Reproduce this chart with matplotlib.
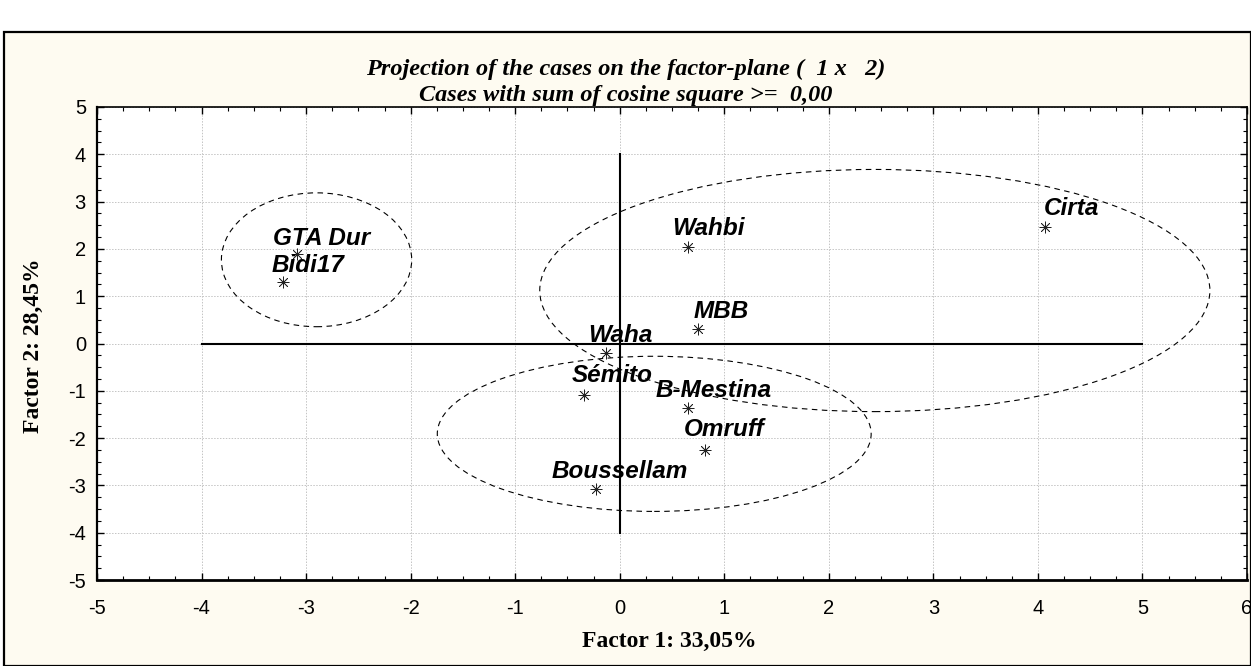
import matplotlib
matplotlib.use("Agg")
import matplotlib.pyplot as plt
from matplotlib.patches import Ellipse, Rectangle
from matplotlib.ticker import MultipleLocator, AutoMinorLocator

serif = "Liberation Serif"
sans = "Liberation Sans"

plt.rcParams["axes.unicode_minus"] = False
plt.rcParams["font.family"] = [sans, "DejaVu Sans"]

# ----------------------------------------------------------------------
# Data
# ----------------------------------------------------------------------
names = ["Cirta", "Wahbi", "GTA Dur", "Bidi17", "MBB", "Waha",
         "Sémito", "B-Mestina", "Omruff", "Boussellam"]
factor1 = [4.07, 0.65, -3.09, -3.22, 0.75, -0.13, -0.34, 0.65, 0.82, -0.23]
factor2 = [2.47, 2.05, 1.90, 1.31, 0.30, -0.21, -1.08, -1.37, -2.26, -3.07]

# group ellipses: centre x, centre y, width, height (data units)
ell_cx = [-2.90, 2.44, 0.33]
ell_cy = [1.77, 1.12, -1.91]
ell_w = [1.82, 6.41, 4.15]
ell_h = [2.83, 5.12, 3.28]

# label offsets in pixels (dx to text left edge, dy to baseline)
label_dx = [-1, -15, -24, -12, -5, -18, -12, -32, -22, -44]
label_dy = [12, 12, 9, 10, 11, 11, 13, 11, 14, 11]

cream = "#FEFBF1"
PX = 0.72  # points per pixel at dpi 100

# ----------------------------------------------------------------------
# Figure
# ----------------------------------------------------------------------
fig = plt.figure(figsize=(12.51, 6.66), dpi=100)
fig.patch.set_facecolor("white")
fig.patches.append(Rectangle((0.003, 0.0), 0.997, 1 - 32 / 666,
                             transform=fig.transFigure, facecolor=cream,
                             edgecolor="black", linewidth=1.6, zorder=-10))

ax = fig.add_axes([97 / 1251, 1 - 580 / 666, 1150 / 1251, 473 / 666])
ax.set_facecolor("white")

ax.set_xlim(-5, 6)
ax.set_ylim(-5, 5)
ax.xaxis.set_major_locator(MultipleLocator(1))
ax.yaxis.set_major_locator(MultipleLocator(1))
ax.xaxis.set_minor_locator(AutoMinorLocator(4))
ax.yaxis.set_minor_locator(AutoMinorLocator(4))
ax.tick_params(which="both", direction="in", top=True, right=True,
               color="black")
ax.tick_params(which="major", length=5, width=1)
ax.tick_params(which="minor", length=3, width=0.8)
ax.tick_params(axis="x", pad=14, labelsize=14.5)
ax.tick_params(axis="y", pad=8, labelsize=14.5)
for s in ax.spines.values():
    s.set_linewidth(1.2)
ax.spines["bottom"].set_linewidth(2)
ax.spines["left"].set_linewidth(1.6)

ax.grid(True, which="major", color="#C4C4C4", linestyle=(0, (1.5, 1.5)),
        linewidth=0.7)
ax.set_axisbelow(True)

# axis cross
ax.plot([-4, 5], [0, 0], color="black", linewidth=1.5, zorder=2)
ax.plot([0, 0], [-4, 4], color="black", linewidth=1.5, zorder=2)

# ellipses
for cx, cy, w, h in zip(ell_cx, ell_cy, ell_w, ell_h):
    ax.add_patch(Ellipse((cx, cy), w, h, fill=False, edgecolor="black",
                         linestyle=(0, (5, 4)), linewidth=0.8, zorder=3))

# points
ax.scatter(factor1, factor2, marker=(8, 2, 0), s=65, color="#222222",
           linewidths=0.55, zorder=4)

for name, x, y, dx, dy in zip(names, factor1, factor2, label_dx, label_dy):
    ax.annotate(name, (x, y), xytext=(dx * PX, dy * PX),
                textcoords="offset points", ha="left", va="baseline",
                fontsize=17.5, fontweight="bold", fontstyle="italic",
                family=sans, zorder=5)

# titles and labels
fig.text(0.5, 1 - 69 / 666, "Projection of the cases on the factor-plane (  1 x   2)",
         ha="center", va="center", fontsize=17.5, fontweight="bold",
         fontstyle="italic", family=serif)
fig.text(0.5, 1 - 95 / 666, "Cases with sum of cosine square >=  0,00",
         ha="center", va="center", fontsize=17.5, fontweight="bold",
         fontstyle="italic", family=serif)
fig.text(0.535, 1 - 641 / 666, "Factor 1: 33,05%", ha="center", va="center",
         fontsize=17, fontweight="bold", family=serif)
fig.text(33 / 1251, 1 - 346 / 666, "Factor 2: 28,45%", ha="center",
         va="center", rotation=90, fontsize=17, fontweight="bold",
         family=serif)

fig.savefig("out.png", dpi=100, facecolor=fig.get_facecolor())
plt.close(fig)
